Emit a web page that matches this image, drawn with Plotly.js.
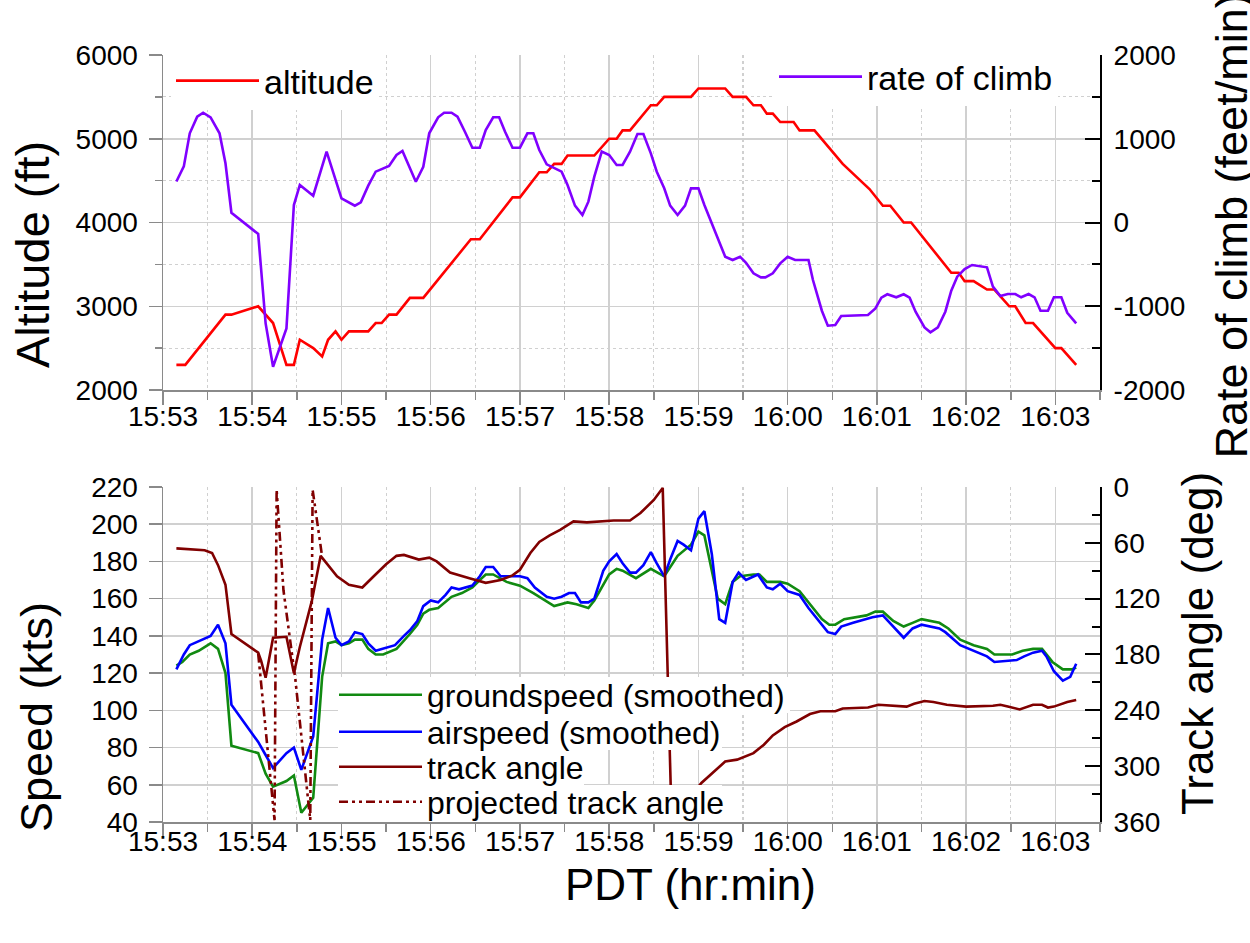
<!DOCTYPE html>
<html>
<head>
<meta charset="utf-8">
<script src="https://cdn.plot.ly/plotly-3.0.1.min.js"></script>
<style>html,body{margin:0;padding:0;background:#fff;}#chart{width:1250px;height:943px;}</style>
</head>
<body>
<div id="chart"></div>
<script>
// ---------- data (time = seconds after 15:53:00 PDT) ----------
const altT = [9,15,42,46,64,74,83,88,92,101,107,111,116,120,125,138,143,147,152,157,166,175,207,213,235,240,253,258,263,268,272,290,300,305,309,314,328,332,337,355,360,378,383,392,397,402,406,410,415,424,428,438,457,475,484,489,498,503,530,535,539,545,554,559,569,573,580,585,600,604,614];
const altitude = [2300,2300,2900,2900,3000,2800,2300,2300,2600,2500,2400,2600,2700,2600,2700,2700,2800,2800,2900,2900,3100,3100,3800,3800,4300,4300,4600,4600,4700,4700,4800,4800,5000,5000,5100,5100,5400,5400,5500,5500,5600,5600,5500,5500,5400,5400,5300,5300,5200,5200,5100,5100,4700,4400,4200,4200,4000,4000,3400,3400,3300,3300,3200,3200,3000,3000,2800,2800,2500,2500,2300];

const rocT = [9,14,18,23,27,32,38,42,46,64,69,74,83,88,92,101,110,120,129,133,138,143,152,157,161,170,175,179,185,189,194,198,203,208,213,217,222,226,230,235,240,245,249,253,258,263,268,272,277,282,286,290,295,300,305,309,314,319,323,328,332,337,341,346,351,355,360,364,369,374,378,383,388,392,397,402,405,410,415,420,425,434,437,443,447,452,456,474,479,483,487,493,498,502,506,512,516,521,526,530,534,539,544,554,558,563,568,573,577,582,586,590,595,599,604,608,614];
const rateOfClimb = [490,670,1065,1263,1311,1256,1065,707,117,-137,-1204,-1722,-1264,209,448,320,846,289,201,241,440,607,674,806,854,487,666,1065,1256,1311,1311,1263,1084,893,893,1104,1256,1256,1084,893,893,1065,1065,866,695,655,607,448,201,90,249,547,846,806,687,687,846,1057,1057,826,607,408,201,90,201,408,408,209,-10,-209,-408,-448,-408,-480,-607,-655,-655,-607,-488,-408,-448,-448,-687,-1053,-1232,-1224,-1116,-1104,-1025,-897,-857,-893,-857,-897,-1065,-1252,-1311,-1252,-1065,-814,-647,-555,-507,-535,-766,-878,-854,-854,-893,-854,-893,-1053,-1053,-893,-893,-1077,-1204];

const gsT = [9,13,18,24,32,37,42,46,64,69,74,83,88,93,101,107,111,116,120,125,129,134,138,143,148,157,166,171,175,179,185,194,201,208,213,217,222,227,231,240,249,263,272,278,286,290,300,305,309,318,328,337,346,355,360,364,373,378,383,388,397,401,406,415,420,428,435,443,448,452,458,473,479,484,491,498,504,510,522,528,536,545,554,559,571,578,585,591,598,605,611,614];
const groundspeed = [124,126,130,132,136,133,120,81,77,66,59,62,65,45,53,118,136,137,135,136,138,138,133,130,130,133,141,146,152,154,155,161,163,166,170,173,173,171,169,167,163,156,158,157,155,159,173,176,175,171,176,172,183,189,196,194,160,157,169,172,173,173,169,169,168,164,157,149,146,146,149,151,153,153,148,145,147,149,147,144,138,135,133,130,130,132,133,133,126,122,122,123];

const asT = [9,14,18,24,32,37,42,46,64,69,74,83,88,93,101,107,111,116,120,125,129,134,138,143,148,156,162,166,171,175,180,185,190,194,199,208,213,217,222,227,231,240,245,250,258,263,268,273,277,281,286,290,296,300,305,309,314,318,323,328,332,337,341,346,350,355,360,364,369,374,378,383,387,392,400,406,410,415,420,428,434,442,447,452,456,464,477,484,492,498,504,510,522,526,536,545,554,559,574,579,585,591,594,599,605,610,614];
const airspeed = [122,130,135,137,140,146,136,103,83,76,69,77,80,68,86,138,155,139,135,137,142,141,136,132,133,135,140,143,148,156,159,158,162,166,165,167,172,177,177,172,172,172,171,166,161,160,161,163,163,158,158,160,175,180,184,179,174,174,178,185,179,172,181,191,189,186,203,207,184,149,147,169,174,170,173,166,165,168,164,162,155,147,142,141,145,147,150,151,144,139,144,146,144,142,135,132,129,126,127,129,131,132,129,121,116,118,125];

const taT = [9,17,28,33,37,42,46,64,66,69,74,83,88,92,100,106,110,117,125,134,141,150,157,162,172,179,184,193,206,217,227,235,240,247,253,260,267,276,285,303,314,321,330,336,342,352,362,378,386,397,404,410,418,426,435,442,452,457,474,481,500,505,512,518,527,540,558,563,568,576,585,591,595,599,608,614];
const trackAngle = [66,67,68,71,84,105,158,178,187,205,162,161,200,172,123,74,82,96,105,108,97,83,74,73,78,76,80,92,98,103,100,95,89,71,59,52,46,37,38,36,36,28,14,1,360,338,318,295,293,286,277,267,258,252,244,241,241,238,237,234,236,233,230,231,234,236,235,234,236,239,234,234,237,236,231,229];

const pjT = [64,75,76.4,81,89,99,100.6,107];
const projectedTrack = [179,358,3,111,207,358,3,75];

const altTicks = [2000,3000,4000,5000,6000];
const rocTickVals = [-2000,-1000,0,1000,2000];
const rocTickText = ['-2000','-1000','0','1000','2000'];
const speedTicks = [40,60,80,100,120,140,160,180,200,220];
const angleTicks = [0,60,120,180,240,300,360];

// ---------- helpers ----------
const BASE = Date.UTC(2012,5,1,15,53,0);
function ts(s){ return new Date(BASE + Math.round(s*1000)).toISOString().slice(0,23).replace('T',' '); }
const toTimes = arr => arr.map(ts);

const FONT = 'Liberation Sans, Arial, Helvetica, sans-serif';
const GRID = '#d0d0d0';
const AXC = '#8a8a8a';
const LW = 2.6;
const TICKSIZE = 28;

const traces = [
  {x: toTimes(altT), y: altitude, name: 'altitude', type:'scatter', mode:'lines',
   line:{color:'#ff0000', width:LW}, xaxis:'x', yaxis:'y', legend:'legend'},
  {x: toTimes(rocT), y: rateOfClimb, name: 'rate of climb', type:'scatter', mode:'lines',
   line:{color:'#8000ff', width:LW}, xaxis:'x', yaxis:'y2', legend:'legend2'},
  {x: toTimes(gsT), y: groundspeed, name: 'groundspeed (smoothed)', type:'scatter', mode:'lines',
   line:{color:'#118a11', width:LW}, xaxis:'x2', yaxis:'y3', legend:'legend3'},
  {x: toTimes(asT), y: airspeed, name: 'airspeed (smoothed)', type:'scatter', mode:'lines',
   line:{color:'#0000ff', width:LW}, xaxis:'x2', yaxis:'y3', legend:'legend4'},
  {x: toTimes(taT), y: trackAngle, name: 'track angle', type:'scatter', mode:'lines',
   line:{color:'#800000', width:LW}, xaxis:'x2', yaxis:'y4', legend:'legend5'},
  {x: toTimes(pjT), y: projectedTrack, name: 'projected track angle', type:'scatter', mode:'lines',
   line:{color:'#800000', width:LW, dash:'9px,4px,3px,4px,3px,4px'}, xaxis:'x2', yaxis:'y4', legend:'legend6'}
];

function xAxis(anchor, standoff){
  return {
    type:'date', anchor: anchor, domain:[0,1], range:[ts(0), ts(630)],
    tickformat:'%H:%M', tick0: ts(0), dtick: 60000,
    ticks:'outside', ticklen:13, tickwidth:1.5, tickcolor:AXC,
    showline:true, linecolor:AXC, linewidth:1.5,
    showgrid:true, gridcolor:GRID, gridwidth:1.5, zeroline:false,
    tickfont:{size:TICKSIZE, color:'#000', family:FONT}, ticklabelstandoff: standoff,
    minor:{tick0: ts(0), dtick:30000, ticks:'outside', ticklen:8, tickwidth:1.5, tickcolor:AXC,
           showgrid:true, gridcolor:GRID, griddash:'dot', gridwidth:1.2}
  };
}
function leftAxis(domain, range, ticks, minorDtick, minorGrid){
  return {
    domain: domain, range: range, tickmode:'array', tickvals: ticks,
    ticks:'outside', ticklen:13, tickwidth:1.5, tickcolor:AXC,
    showline:true, linecolor:AXC, linewidth:1.5,
    showgrid:true, gridcolor:GRID, gridwidth:1.5, zeroline:false,
    tickfont:{size:TICKSIZE, color:'#000', family:FONT}, ticklabelstandoff: 5,
    minor: minorDtick ? {tickmode:'linear', tick0: range[0], dtick:minorDtick, ticks:'outside', ticklen:7, tickwidth:1.5, tickcolor:AXC,
            showgrid: minorGrid, gridcolor:GRID, griddash:'dot', gridwidth:1.2} : undefined
  };
}
function rightAxis(over, anchor, range, vals, text, minorDtick, minorStart){
  return {
    overlaying: over, anchor: anchor, side:'right', range: range,
    tickmode:'array', tickvals: vals, ticktext: text,
    ticks:'inside', ticklen:15, tickwidth:2, tickcolor:'#000',
    showline:true, linecolor:'#000', linewidth:2,
    showgrid:false, zeroline:false,
    tickfont:{size:TICKSIZE, color:'#000', family:FONT}, ticklabelstandoff: 6,
    minor:{tickmode:'linear', tick0:minorStart, dtick:minorDtick, ticks:'inside', ticklen:8, tickwidth:2, tickcolor:'#000', showgrid:false}
  };
}

// paper-coordinate helper for the 163..1100 x 55..822 plot box
const px = v => (v - 163) / 937;
const py = v => (822 - v) / 767;

function legendAt(xPix, yPix, size, bg){
  return {x:px(xPix), xanchor:'left', y:py(yPix), yanchor:'middle', bgcolor:bg, borderwidth:0,
          font:{size:size, family:FONT}, itemwidth:83, tracegroupgap:0};
}

const rowBg = [
  [338, 790, 677, 713],
  [338, 722, 713, 750],
  [338, 584, 750, 785],
  [338, 722, 785, 822]
];

const layout = {
  width:1250, height:943,
  margin:{l:163, r:150, t:55, b:121},
  paper_bgcolor:'#fff', plot_bgcolor:'#fff',
  font:{family:FONT, color:'#000'},
  showlegend:true,
  xaxis: xAxis('y', -12),
  xaxis2: xAxis('y3', -19),
  yaxis: leftAxis([0.5632,1], [2000,6000], altTicks, 500, true),
  yaxis2: rightAxis('y','x',[-2000,2000], rocTickVals, rocTickText, 500, -2000),
  yaxis3: leftAxis([0,0.4368], [40,220], speedTicks, null, false),
  yaxis4: rightAxis('y3','x2',[360,0], angleTicks, angleTicks.map(String), 30, 0),
  legend:  legendAt(171, 81, 34, '#fff'),
  legend2: legendAt(774, 77, 34, '#fff'),
  legend3: legendAt(334, 695, 32, 'rgba(0,0,0,0)'),
  legend4: legendAt(334, 732, 32, 'rgba(0,0,0,0)'),
  legend5: legendAt(334, 767, 32, 'rgba(0,0,0,0)'),
  legend6: legendAt(334, 802, 32, 'rgba(0,0,0,0)'),
  shapes: rowBg.map(r => ({type:'rect', xref:'paper', yref:'paper', layer:'above',
          x0:px(r[0]), x1:px(r[1]), y0:py(r[3]), y1:py(r[2]), fillcolor:'#fff', line:{width:0}})),
  annotations:[
    {text:'Altitude (ft)', xref:'paper', yref:'paper', x:px(33), y:py(255), textangle:-90,
     showarrow:false, xanchor:'center', yanchor:'middle', font:{size:47, family:FONT}},
    {text:'Rate of climb (feet/min)', xref:'paper', yref:'paper', x:px(1231), y:py(461), textangle:-90,
     showarrow:false, xanchor:'center', yanchor:'bottom', font:{size:45, family:FONT}},
    {text:'Speed (kts)', xref:'paper', yref:'paper', x:px(36), y:py(717), textangle:-90,
     showarrow:false, xanchor:'center', yanchor:'middle', font:{size:45, family:FONT}},
    {text:'Track angle (deg)', xref:'paper', yref:'paper', x:px(1197), y:py(644), textangle:-90,
     showarrow:false, xanchor:'center', yanchor:'middle', font:{size:44, family:FONT}},
    {text:'PDT (hr:min)', xref:'paper', yref:'paper', x:px(690), y:py(884),
     showarrow:false, xanchor:'center', yanchor:'middle', font:{size:44, family:FONT}}
  ]
};

Plotly.newPlot('chart', traces, layout, {displayModeBar:false, staticPlot:true});
</script>
</body>
</html>
